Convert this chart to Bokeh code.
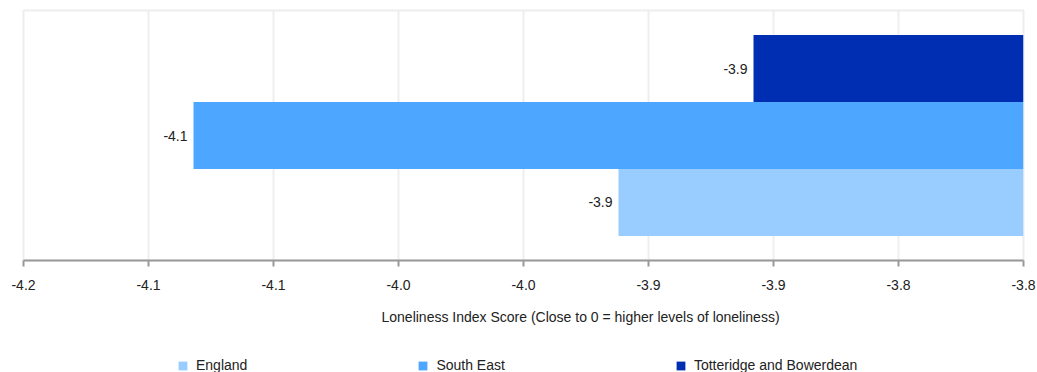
import math
from bokeh.plotting import figure
from bokeh.layouts import column
from bokeh.models import ColumnDataSource, FactorRange, FixedTicker, Legend, LegendItem, Label
from bokeh.core.properties import value
from bokeh.embed import file_html
from bokeh.resources import INLINE

# ---- data ----
series = ["England", "South East", "Totteridge and Bowerdean"]
scores = [-3.962, -4.132, -3.908]
colors = ["#99ccff", "#4da6ff", "#002eb2"]
tick_values = [-4.2, -4.15, -4.1, -4.05, -4.0, -3.95, -3.9, -3.85, -3.8]
tick_labels = ["-4.2", "-4.1", "-4.1", "-4.0", "-4.0", "-3.9", "-3.9", "-3.8", "-3.8"]
x_title = "Loneliness Index Score (Close to 0 = higher levels of loneliness)"

FONT = "Liberation Sans"
TEXT_COLOR = "#222222"

bar_labels = ["%.1f" % (math.trunc(v * 10) / 10) for v in scores]
src = ColumnDataSource(dict(cat=series, val=scores, color=colors, lab=bar_labels))

p = figure(width=1037, height=298, output_backend="svg", toolbar_location=None,
           x_range=(-4.2, -3.8),
           y_range=FactorRange(factors=series, range_padding=0.244),
           min_border_left=23, min_border_right=14, min_border_top=10, min_border_bottom=38)

p.background_fill_color = "white"
p.border_fill_color = "white"
p.outline_line_color = "#eeeeee"
p.outline_line_width = 2

for i, s in enumerate(series):
    p.hbar(y=[s], left=[scores[i]], right=[0.0], height=1.0,
           fill_color=colors[i], line_color=None)

p.text(x="val", y="cat", text="lab", source=src, x_offset=-6,
       text_align="right", text_baseline="middle",
       text_font=value(FONT), text_font_size="14px", text_color=TEXT_COLOR)

p.yaxis.visible = False
p.ygrid.visible = False
p.xgrid.grid_line_color = "#eeeeee"
p.xgrid.grid_line_width = 2

ax = p.xaxis[0]
ax.ticker = FixedTicker(ticks=tick_values)
ax.major_label_overrides = {t: l for t, l in zip(tick_values, tick_labels)}
ax.minor_tick_line_color = None
ax.axis_line_color = "#999999"
ax.axis_line_width = 2
ax.major_tick_line_color = "#999999"
ax.major_tick_line_width = 2
ax.major_tick_in = 0
ax.major_tick_out = 6
ax.major_label_text_font = FONT
ax.major_label_text_font_size = "14px"
ax.major_label_text_color = TEXT_COLOR
ax.major_label_standoff = 13

# ---- strip with the axis title and the legend ----
leg = figure(width=1037, height=74, output_backend="svg", toolbar_location=None,
             x_range=(0, 1), y_range=(0, 1), min_border=0)
leg.axis.visible = False
leg.grid.visible = False
leg.outline_line_color = None
leg.background_fill_color = "white"
leg.border_fill_color = "white"

leg.add_layout(Label(x=358, y=55.3, x_units="screen", y_units="screen", text=x_title,
                     text_align="left", text_baseline="middle",
                     text_font=FONT, text_font_size="14px", text_color=TEXT_COLOR))

# legend swatches (renderers kept outside the visible range)
swatches = [leg.hbar(y=[-5.0], left=[0.0], right=[0.1], height=1.0,
                     fill_color=c, line_color=None) for c in colors]
legend = Legend(items=[LegendItem(label=s, renderers=[r]) for s, r in zip(series, swatches)],
                orientation="horizontal", location=(154, -1),
                glyph_width=11, glyph_height=11, label_standoff=8, spacing=170,
                padding=0, margin=0, border_line_color=None, background_fill_alpha=0,
                label_text_font=FONT, label_text_font_size="14px", label_text_color=TEXT_COLOR,
                label_height=14)
leg.add_layout(legend, "center")

open("out.html", "w").write(file_html(column(p, leg, spacing=0), INLINE))
